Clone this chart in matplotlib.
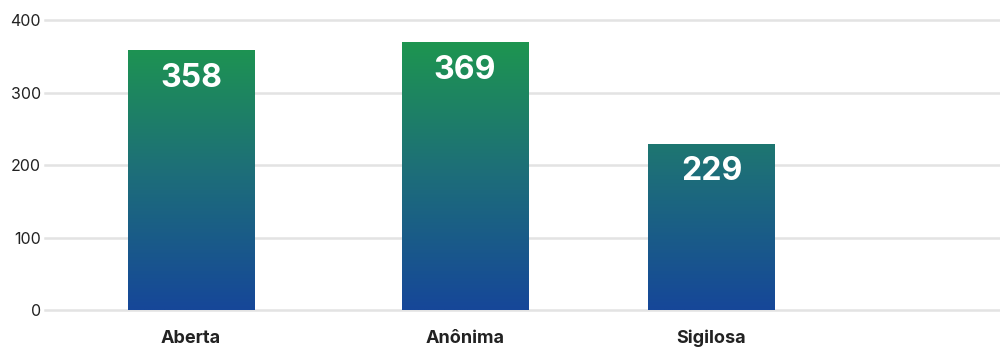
import numpy as np
import matplotlib
matplotlib.use("Agg")
import matplotlib.pyplot as plt
from matplotlib.colors import LinearSegmentedColormap
from matplotlib.patches import Rectangle

# data
categories = ["Aberta", "Anônima", "Sigilosa"]
values = [358, 369, 229]
y_ticks = [0, 100, 200, 300, 400]

# layout (bars are not evenly spaced in the reference)
bar_x = [0.533, 1.533, 2.432]
bar_width = 0.46

plt.rcParams["font.family"] = ["Inter", "DejaVu Sans"]

fig = plt.figure(figsize=(10, 3.48), dpi=100)
ax = fig.add_axes([0.045, 0.109, 0.955, 0.8335])

grad = LinearSegmentedColormap.from_list("bluegreen", ["#164799", "#1d6d7a", "#1e9550"])
grad_img = np.linspace(0, 1, 256).reshape(-1, 1)
grad_top = max(values)

for x, v in zip(bar_x, values):
    rect = Rectangle((x - bar_width / 2, 0), bar_width, v, facecolor="none",
                     edgecolor="none", zorder=3)
    ax.add_patch(rect)
    im = ax.imshow(grad_img, cmap=grad, origin="lower", aspect="auto",
                   extent=[x - bar_width / 2, x + bar_width / 2, 0, grad_top],
                   zorder=3, interpolation="bilinear")
    im.set_clip_path(rect)
    ax.text(x, v - 38, str(v), ha="center", va="center", color="white",
            fontsize=23, fontweight="bold", zorder=4)

ax.set_xlim(0, 3.485)
ax.set_ylim(0, 400)
ax.set_yticks(y_ticks)
ax.set_xticks(bar_x)
ax.set_xticklabels(categories, fontsize=13, fontweight="bold", color="#222222")
ax.tick_params(axis="y", length=0, labelsize=11.5, labelcolor="#222222", pad=3)
ax.tick_params(axis="x", length=0, pad=14)
for yt in y_ticks:
    ax.axhline(yt, color="#e3e3e3", lw=1.8, zorder=1, clip_on=False)
for s in ax.spines.values():
    s.set_visible(False)

fig.savefig("out.png", dpi=100)
